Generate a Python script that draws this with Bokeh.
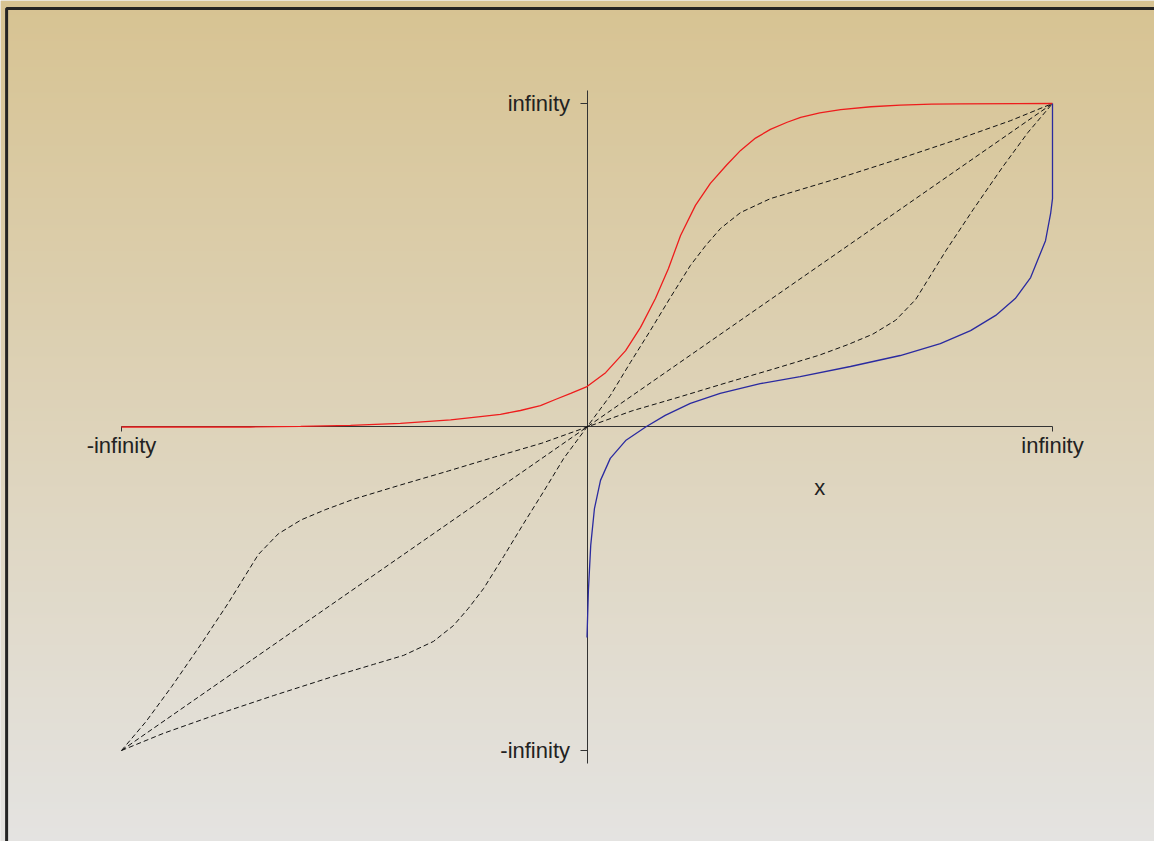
import numpy as np
from bokeh.plotting import figure
from bokeh.models import Range1d, FixedTicker, LinearAxis
from bokeh.core.properties import value
from bokeh.embed import file_html
from bokeh.resources import INLINE

# Compactified coordinates: -1 and 1 stand for -infinity and +infinity.
exp_x = [-1.0, -0.723, -0.615, -0.508, -0.401, -0.293, -0.229, -0.186, -0.143, -0.100,
         -0.068, -0.035, 0.0, 0.040, 0.083, 0.115, 0.147, 0.175, 0.201, 0.233,
         0.265, 0.300, 0.330, 0.362, 0.394, 0.430, 0.459, 0.500, 0.545, 0.610,
         0.673, 0.740, 0.802, 1.0]
exp_y = [0.0, 0.0, 0.002, 0.005, 0.011, 0.022, 0.032, 0.039, 0.051, 0.066,
         0.085, 0.104, 0.125, 0.168, 0.236, 0.308, 0.397, 0.490, 0.592, 0.685,
         0.753, 0.810, 0.855, 0.893, 0.920, 0.942, 0.957, 0.971, 0.981, 0.990,
         0.995, 0.998, 0.999, 1.0]

log_x = [0.0, 0.003, 0.008, 0.016, 0.029, 0.050, 0.083, 0.126, 0.168, 0.222,
         0.286, 0.372, 0.458, 0.566, 0.673, 0.759, 0.824, 0.878, 0.920, 0.953,
         0.985, 0.996, 1.0, 1.0]
log_y = [-0.651, -0.505, -0.366, -0.252, -0.165, -0.097, -0.042, 0.0, 0.036, 0.073,
         0.104, 0.134, 0.156, 0.187, 0.221, 0.258, 0.298, 0.345, 0.397, 0.462,
         0.576, 0.660, 0.706, 1.0]

ident_x = [-1.0, 0.0, 1.0]
ident_y = [-1.0, 0.0, 1.0]

double_x = [-1.0, -0.910, -0.802, -0.673, -0.545, -0.459, -0.394, -0.330, -0.287, -0.255,
            -0.222, -0.179, -0.136, -0.093, -0.050, 0.0, 0.050, 0.093, 0.136, 0.179,
            0.222, 0.255, 0.287, 0.330, 0.394, 0.459, 0.545, 0.673, 0.802, 0.910, 1.0]
double_y = [-1.0, -0.947, -0.892, -0.830, -0.771, -0.734, -0.706, -0.663, -0.614, -0.561,
            -0.499, -0.400, -0.298, -0.199, -0.097, 0.0, 0.097, 0.199, 0.298, 0.400,
            0.499, 0.561, 0.614, 0.663, 0.706, 0.734, 0.771, 0.830, 0.892, 0.947, 1.0]

half_x = [-1.0, -0.947, -0.892, -0.830, -0.771, -0.734, -0.706, -0.663, -0.614, -0.561,
          -0.499, -0.400, -0.298, -0.199, -0.097, 0.0, 0.097, 0.199, 0.298, 0.400,
          0.499, 0.561, 0.614, 0.663, 0.706, 0.734, 0.771, 0.830, 0.892, 0.947, 1.0]
half_y = [-1.0, -0.910, -0.802, -0.673, -0.545, -0.459, -0.394, -0.330, -0.287, -0.255,
          -0.222, -0.179, -0.136, -0.093, -0.050, 0.0, 0.050, 0.093, 0.136, 0.179,
          0.222, 0.255, 0.287, 0.330, 0.394, 0.459, 0.545, 0.673, 0.802, 0.910, 1.0]

tick_values = [-1, 1]
x_tick_labels = {-1: "-infinity", 1: "infinity"}
y_tick_labels = {-1: "-infinity", 1: "infinity"}
x_title = "x"

W, H = 1154, 841
x_lo, x_hi = -1.25994, 1.21912
y_lo, y_hi = -1.28130, 1.31839

FONT = "Liberation Sans"
TEXT = "#222222"
AXIS = "#333333"

p = figure(width=W, height=H, x_range=Range1d(x_lo, x_hi), y_range=Range1d(y_lo, y_hi),
           output_backend="svg", toolbar_location=None, min_border=0,
           x_axis_location=None, y_axis_location=None)
p.grid.visible = False
p.outline_line_color = None
p.background_fill_color = "#e3e2e0"
p.border_fill_color = "#e3e2e0"

# vertical background gradient: tan at the top fading to light grey at the bottom
top = np.array([215, 195, 146], dtype=float)
bot = np.array([228, 227, 225], dtype=float)
t = np.linspace(0.0, 1.0, H)[:, None]  # 0 at bottom row
rgb = bot * (1 - t) + top * t
img = np.zeros((H, 2, 4), dtype=np.uint8)
img[:, :, :3] = np.round(rgb).astype(np.uint8)[:, None, :]
img[:, :, 3] = 255
p.image_rgba(image=[img.view(dtype=np.uint32).reshape((H, 2))], x=x_lo, y=y_lo,
             dw=x_hi - x_lo, dh=y_hi - y_lo, level="image")

# dark frame around the page
p.quad(left=[-1.2468], right=[1.6], top=[1.2937], bottom=[-1.6],
       fill_color=None, line_color="#242424", line_width=3)

xaxis = LinearAxis(fixed_location=0, ticker=FixedTicker(ticks=tick_values),
                   major_label_overrides=x_tick_labels, bounds=(-1, 1))
yaxis = LinearAxis(fixed_location=0, ticker=FixedTicker(ticks=tick_values),
                   major_label_overrides=y_tick_labels, bounds=(-1.04, 1.04))
for ax, tick_out, standoff in ((xaxis, 5, 1), (yaxis, 7, 10)):
    ax.axis_line_color = AXIS
    ax.axis_line_width = 1
    ax.major_tick_line_color = AXIS
    ax.major_tick_out = tick_out
    ax.major_tick_in = 0
    ax.minor_tick_line_color = None
    ax.major_label_standoff = standoff
    ax.major_label_text_font = FONT
    ax.major_label_text_font_size = "22px"
    ax.major_label_text_color = TEXT
    ax.level = "underlay"
p.add_layout(xaxis, "below")
p.add_layout(yaxis, "left")

p.text(x=[0.5], y=[-0.187], text=[x_title], text_font=value(FONT), text_font_size="22px",
       text_color=TEXT, text_align="center", text_baseline="middle")

dash = "5 3"
for xs, ys in ((ident_x, ident_y), (double_x, double_y), (half_x, half_y)):
    p.line(xs, ys, line_color="#111111", line_width=1, line_dash=dash)

p.line(exp_x, exp_y, line_color="#ee1c1c", line_width=1.3)
p.line(log_x, log_y, line_color="#2a2aa0", line_width=1.3)

open("out.html", "w").write(file_html(p, INLINE))
